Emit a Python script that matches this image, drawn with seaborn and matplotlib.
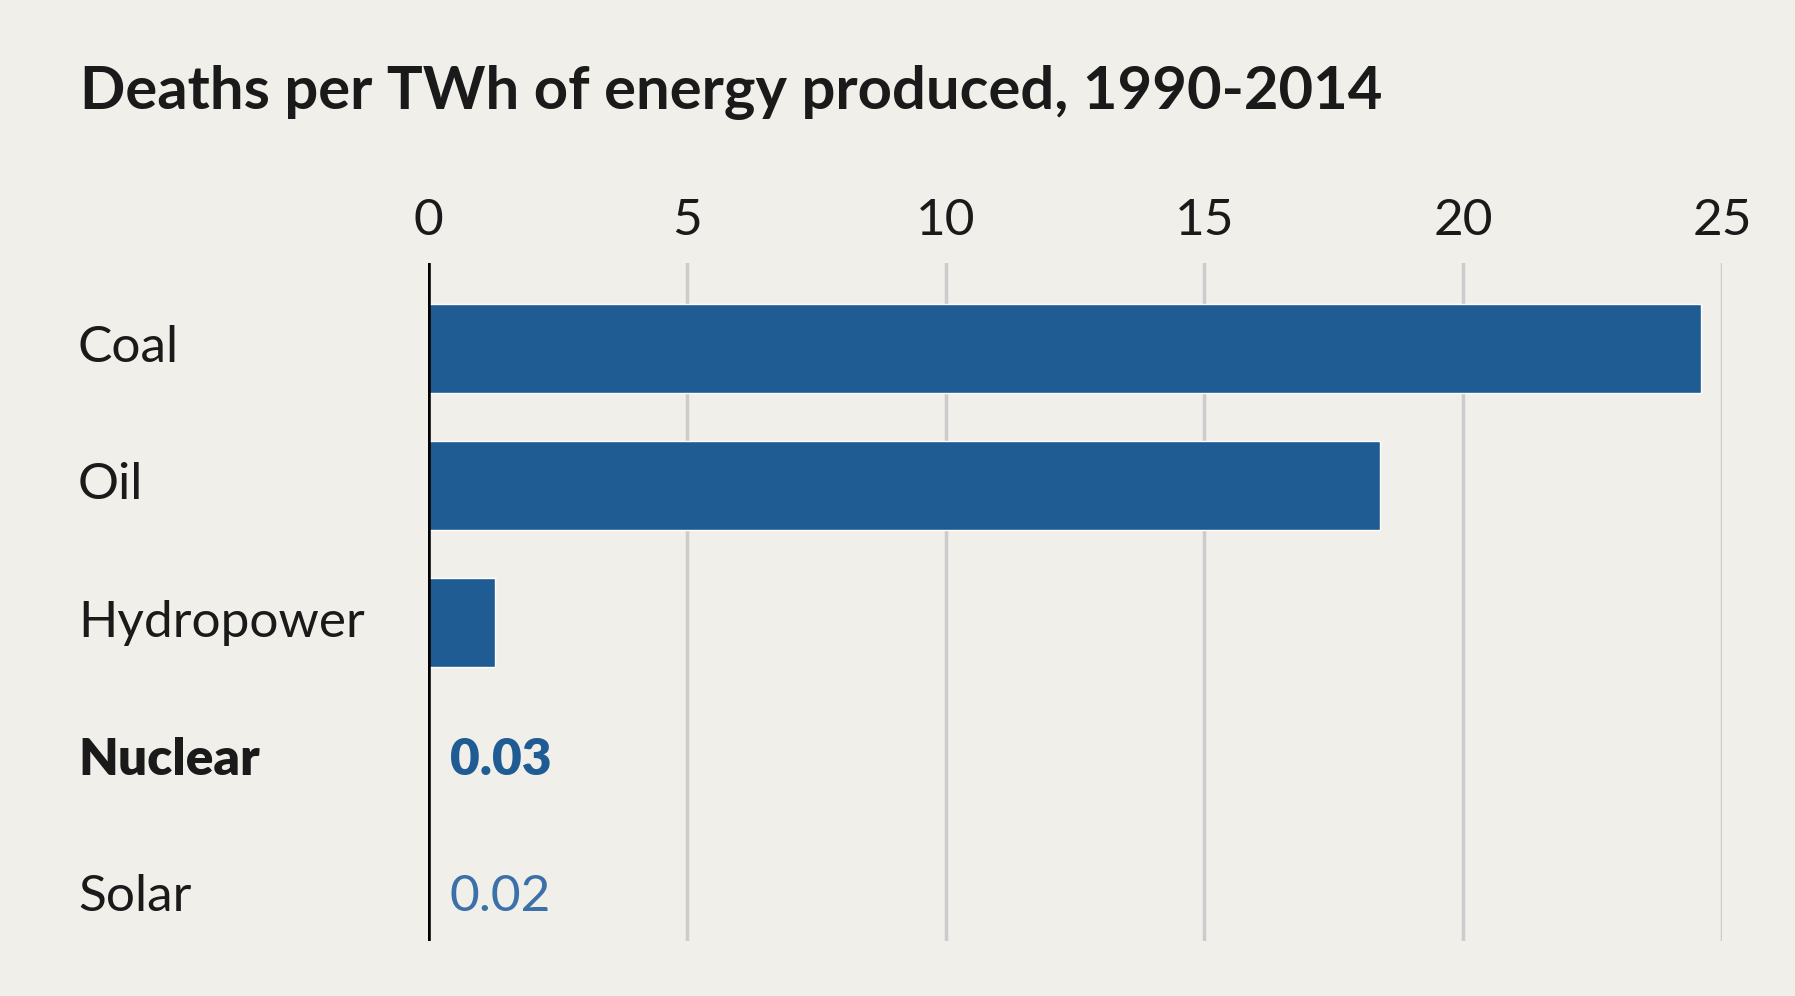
import pandas as pd
import seaborn as sns
import matplotlib.pyplot as plt

# Deaths per TWh, 1990-2014
sources = ['Coal', 'Oil', 'Hydropower', 'Nuclear', 'Solar']
deaths = [24.6, 18.4, 1.3, 0.03, 0.02]
ticks = [0, 5, 10, 15, 20, 25]
title = 'Deaths per TWh of energy produced, 1990-2014'

df = pd.DataFrame({'source': sources, 'deaths': deaths})

bg = '#f0efea'
blue = '#1f5c94'
ink = '#1a1a1a'

sns.set_style('white')
plt.rcParams['font.family'] = ['Lato', 'DejaVu Sans']

fig = plt.figure(figsize=(17.95, 9.96), dpi=100, facecolor=bg)
ax = fig.add_axes([0.2384, 0.0552, 0.7209, 0.6807])
ax.set_facecolor(bg)

sns.barplot(data=df, x='deaths', y='source', orient='h', color=blue,
            saturation=1, width=0.65, ax=ax, zorder=2)

ax.set_xlim(0, 25)
ax.set_ylim(4.32, -0.62)
ax.set_xticks(ticks)
ax.xaxis.tick_top()
ax.tick_params(axis='x', length=0, pad=14, labelsize=37, labelcolor=ink)
ax.set_xticklabels([str(t) for t in ticks])
for t in ticks[1:]:
    ax.axvline(t, color='#cccccc', lw=2.5, zorder=1)
ax.axvline(0, color='black', lw=4, zorder=3)

ax.set_yticks([])
ax.set_xlabel('')
ax.set_ylabel('')
for s in ax.spines.values():
    s.set_visible(False)

# category labels on the left (pixel 78 -> axes coords)
x_lab = (78 - 428) / (1722 - 428)
for i, name in enumerate(sources):
    ax.text(x_lab, i, name, transform=ax.get_yaxis_transform(),
            ha='left', va='center', fontsize=37, color=ink,
            fontweight='heavy' if name == 'Nuclear' else 'normal')

# small values written next to the axis
ax.text(0.42, 3, '0.03', ha='left', va='center', fontsize=37,
        color=blue, fontweight='heavy', zorder=4)
ax.text(0.42, 4, '0.02', ha='left', va='center', fontsize=37,
        color='#3c70a8', zorder=4)

fig.text(80 / 1795, 1 - 92 / 996, title, ha='left', va='center',
         fontsize=43, fontweight='bold', color=ink)

fig.savefig('out.png', dpi=100, facecolor=bg)
